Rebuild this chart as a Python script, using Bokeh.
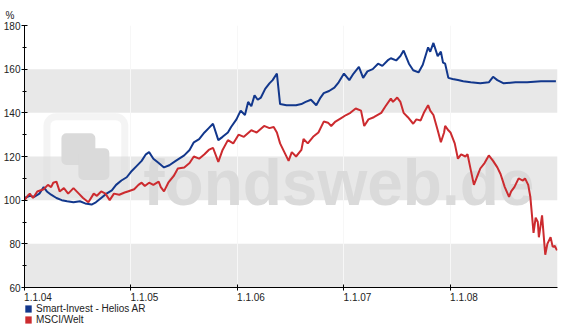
from bokeh.plotting import figure
from bokeh.layouts import column
from bokeh.models import (Range1d, FixedTicker, BoxAnnotation, Grid, Label,
                          Legend, LegendItem)
from bokeh.embed import file_html
from bokeh.resources import INLINE

# ---------------- data ----------------
years = [2004, 2005, 2006, 2007, 2008]
year_labels = ["1.1.04", "1.1.05", "1.1.06", "1.1.07", "1.1.08"]
y_major = [60, 80, 100, 120, 140, 160, 180]
y_minor = [70, 90, 110, 130, 150, 170]
gray_bands = [(60, 80), (100, 120), (140, 160)]

series_names = ["Smart-Invest - Helios AR", "MSCI/Welt"]

helios_t = [2004.00, 2004.05, 2004.09, 2004.14, 2004.18, 2004.21, 2004.25, 2004.30,
            2004.35, 2004.40, 2004.46, 2004.52, 2004.57, 2004.63, 2004.67, 2004.72,
            2004.77, 2004.82, 2004.86, 2004.91, 2004.96, 2005.00, 2005.05, 2005.10,
            2005.14, 2005.17, 2005.21, 2005.26, 2005.31, 2005.36, 2005.42, 2005.50,
            2005.55, 2005.59, 2005.64, 2005.69, 2005.73, 2005.77, 2005.82, 2005.86,
            2005.91, 2005.94, 2005.99, 2006.03, 2006.07, 2006.10, 2006.13, 2006.16,
            2006.19, 2006.22, 2006.26, 2006.30, 2006.33, 2006.37, 2006.40, 2006.46,
            2006.55, 2006.60, 2006.64, 2006.69, 2006.74, 2006.78, 2006.81, 2006.86,
            2006.91, 2006.95, 2007.00, 2007.05, 2007.09, 2007.14, 2007.18, 2007.22,
            2007.27, 2007.32, 2007.36, 2007.41, 2007.44, 2007.49, 2007.53, 2007.56,
            2007.61, 2007.65, 2007.70, 2007.74, 2007.79, 2007.81, 2007.84, 2007.88,
            2007.91, 2007.93, 2007.95, 2007.98, 2008.02, 2008.07, 2008.12, 2008.19,
            2008.28, 2008.36, 2008.40, 2008.44, 2008.50, 2008.61, 2008.72, 2008.85,
            2008.99]
helios_v = [101, 102, 101.5, 103, 106, 104, 102.5, 101,
            100, 99.5, 99, 99.5, 98.5, 98, 99, 101,
            103, 104.5, 107, 109, 110.5, 113, 115.5, 118,
            121, 122, 119, 117, 115, 116, 118, 120.5,
            123, 126.5, 128, 131, 133, 135, 127.5, 129,
            131, 133.5, 137, 141, 139, 145, 143, 148,
            146, 147, 151, 153.5, 155, 158, 144, 143.5,
            143.5, 144, 145, 146, 143.5, 147, 149, 150,
            151.5, 154, 158, 155, 158, 161, 156, 159,
            160, 162.5, 161.5, 164, 165, 164, 166, 168.5,
            162.5, 159.5, 158.5, 162, 170, 168, 172, 166,
            168, 163, 162.5, 156, 155.5, 155, 154.5, 154,
            153.5, 154, 156.5, 155, 153.5, 154, 154, 154.5,
            154.5]

msci_t = [2004.00, 2004.03, 2004.05, 2004.08, 2004.12, 2004.18, 2004.22, 2004.25,
          2004.27, 2004.30, 2004.33, 2004.37, 2004.41, 2004.46, 2004.51, 2004.55,
          2004.60, 2004.65, 2004.68, 2004.72, 2004.76, 2004.80, 2004.84, 2004.89,
          2004.94, 2004.97, 2005.03, 2005.07, 2005.10, 2005.13, 2005.17, 2005.21,
          2005.26, 2005.28, 2005.31, 2005.35, 2005.40, 2005.44, 2005.50, 2005.55,
          2005.59, 2005.64, 2005.69, 2005.73, 2005.77, 2005.82, 2005.86, 2005.91,
          2005.96, 2006.01, 2006.06, 2006.13, 2006.18, 2006.25, 2006.30, 2006.34,
          2006.37, 2006.40, 2006.44, 2006.48, 2006.51, 2006.55, 2006.60, 2006.62,
          2006.66, 2006.71, 2006.76, 2006.81, 2006.85, 2006.88, 2006.92, 2006.97,
          2007.02, 2007.06, 2007.11, 2007.16, 2007.19, 2007.23, 2007.28, 2007.35,
          2007.39, 2007.44, 2007.46, 2007.50, 2007.53, 2007.56, 2007.60, 2007.65,
          2007.68, 2007.72, 2007.75, 2007.79, 2007.81, 2007.84, 2007.88, 2007.91,
          2007.94, 2007.95, 2007.98, 2008.00, 2008.04, 2008.07, 2008.10, 2008.14,
          2008.16, 2008.19, 2008.22, 2008.26, 2008.28, 2008.32, 2008.36, 2008.40,
          2008.44, 2008.47, 2008.51, 2008.55, 2008.57, 2008.60, 2008.64, 2008.68,
          2008.70, 2008.73, 2008.75, 2008.78, 2008.80, 2008.82, 2008.83, 2008.86,
          2008.89, 2008.91, 2008.94, 2008.96, 2008.98, 2009.00]
msci_v = [100, 102, 103, 101, 104, 105, 107, 106,
          108, 108.5, 104, 105.5, 103, 105.5, 103, 101,
          99, 103, 102, 104, 103, 100, 103, 102.5,
          103.5, 104, 105, 107, 108, 106.5, 108, 107,
          108.5, 106, 104, 108, 111, 114.5, 115, 117,
          120, 119, 121, 123, 124, 117.5, 123, 127.5,
          126, 130, 129, 132, 131, 134, 133, 133.5,
          131, 126, 122, 118, 122, 120, 123, 128,
          126, 129, 131, 136, 135.5, 134, 136, 137.5,
          139, 140, 142, 141, 134, 137, 138, 140,
          143, 146.5, 145, 147, 145, 140, 138, 135,
          137, 136.5, 140, 143.5, 141, 139, 132, 126.5,
          131, 134, 132, 131, 126, 119, 121, 120,
          121, 114, 107, 112, 114.5, 117, 120.5, 118,
          115, 112, 106, 101.5, 104, 106, 110, 109,
          110, 107, 101.5, 85, 92, 90, 83, 93,
          75, 80, 83, 78.6, 79, 77]

# ---------------- main figure ----------------
p = figure(width=564, height=303, output_backend="svg", toolbar_location=None,
           x_range=Range1d(2004, 2009.005), y_range=Range1d(60, 180),
           min_border_left=23, min_border_right=7, min_border_top=25,
           min_border_bottom=15, background_fill_color="white",
           border_fill_color="white", outline_line_color=None)

p.xgrid.visible = False
p.ygrid.visible = False

for lo, hi in gray_bands:
    p.add_layout(BoxAnnotation(bottom=lo, top=hi, fill_color="#e8e8e8", fill_alpha=1,
                               line_color=None, level="underlay"))

vgrid = Grid(dimension=0, ticker=FixedTicker(ticks=years[1:]),
             grid_line_color="#f7f7f7", grid_line_width=1)
p.add_layout(vgrid)

# watermark
wm = "#dadada"
def xp(px):
    return 2004 + (px - 23) / 106.7
def yp(py):
    return 180 - (py - 25) / 2.19

p.add_layout(BoxAnnotation(left=xp(45.5), right=xp(123.5), top=yp(116.5), bottom=yp(194.5),
                           fill_color=None, line_color=wm, line_width=7,
                           border_radius=9, level="underlay"))
p.add_layout(BoxAnnotation(left=xp(60), right=xp(94), top=yp(133), bottom=yp(165),
                           fill_color=wm, fill_alpha=1, line_color=None,
                           border_radius=5, level="underlay"))
p.add_layout(BoxAnnotation(left=xp(77), right=xp(108), top=yp(148), bottom=yp(180),
                           fill_color=wm, fill_alpha=1, line_color=None,
                           border_radius=5, level="underlay"))
p.add_layout(Label(x=xp(142), y=yp(183), text="fondsweb.de",
                   text_font="Liberation Sans", text_font_style="bold",
                   text_font_size="64px", text_color=wm, text_baseline="alphabetic",
                   level="underlay"))

blue = "#12378c"
red = "#cc2b2f"
p.line(helios_t, helios_v, line_color=blue, line_width=2)
p.line(msci_t, msci_v, line_color=red, line_width=2)

ax = p.xaxis[0]
label_pos = [y + 0.127 for y in years]
ax.ticker = FixedTicker(ticks=label_pos, minor_ticks=years)
ax.major_label_overrides = {pos: lab for pos, lab in zip(label_pos, year_labels)}
ax.major_tick_line_color = None
ax.major_tick_in = 0
ax.major_tick_out = 0
ax.minor_tick_in = 3
ax.minor_tick_out = 3
ax.minor_tick_line_color = "black"
ax.major_label_standoff = 2
ax.axis_line_color = "black"
ax.major_label_text_font = "Liberation Sans"
ax.major_label_text_font_size = "10px"
ax.major_label_text_color = "#222222"

ay = p.yaxis[0]
ay.ticker = FixedTicker(ticks=y_major, minor_ticks=y_minor)
ay.major_tick_in = 3
ay.major_tick_out = 3
ay.minor_tick_in = 2
ay.minor_tick_out = 2
ay.major_label_standoff = 1
ay.axis_line_color = "black"
ay.major_label_text_font = "Liberation Sans"
ay.major_label_text_font_size = "10px"
ay.major_label_text_color = "#222222"

p.title.text = "%"
p.title.align = "left"
p.title.offset = -19
p.title.text_font = "Liberation Sans"
p.title.text_font_size = "10px"
p.title.text_font_style = "normal"
p.title.text_color = "#222222"

# ---------------- legend strip ----------------
lg = figure(width=564, height=25, output_backend="svg", toolbar_location=None,
            x_range=Range1d(0, 1), y_range=Range1d(0, 1),
            min_border_left=22, min_border_right=0, min_border_top=0,
            min_border_bottom=0, outline_line_color=None,
            background_fill_color="white", border_fill_color="white")
lg.axis.visible = False
lg.grid.visible = False
# zero-area swatch carriers (invisible in the strip, used only for the legend keys)
q1 = lg.quad(left=[-1], right=[-1], top=[-1], bottom=[-1], fill_color=blue, line_color=None)
q2 = lg.quad(left=[-1], right=[-1], top=[-1], bottom=[-1], fill_color=red, line_color=None)
legend = Legend(items=[LegendItem(label=series_names[0], renderers=[q1]),
                       LegendItem(label=series_names[1], renderers=[q2])],
                location="top_left", glyph_width=8, glyph_height=9, label_height=11,
                label_text_font_size="10px", label_text_font="Liberation Sans",
                label_text_color="#222222",
                label_standoff=4, padding=0, margin=0, spacing=0,
                border_line_color=None, background_fill_alpha=0)
lg.add_layout(legend)

layout = column(p, lg, spacing=0)
open("out.html", "w").write(file_html(layout, INLINE))
